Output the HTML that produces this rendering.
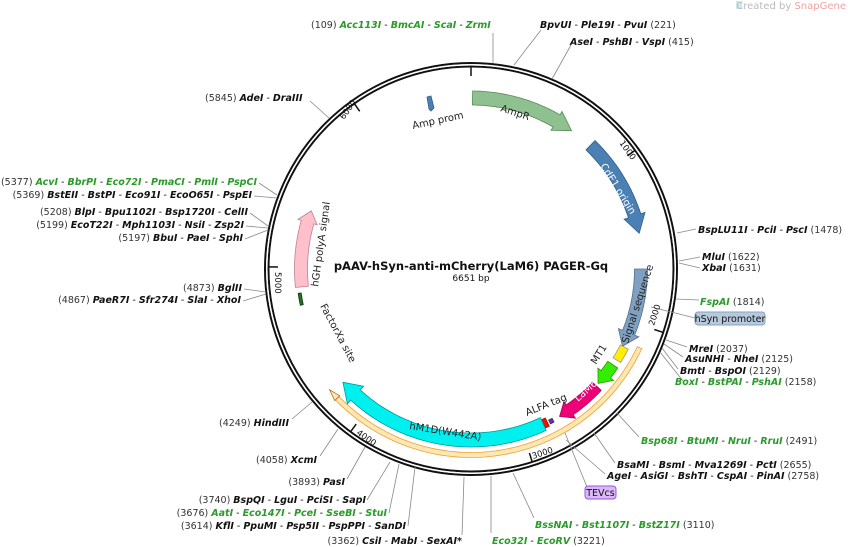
<!DOCTYPE html>
<html><head><meta charset="utf-8"><style>
html,body{margin:0;padding:0;background:#fff;width:848px;height:547px;overflow:hidden}
svg{display:block}
text{font-family:"DejaVu Sans","Liberation Sans",sans-serif;font-size:9.5px;fill:#111}
.e{font-weight:bold;font-style:italic}
.g{fill:#2a9a2a}
.n{fill:#333}
.f{font-size:10px;fill:#222}
.w{fill:#fff}
</style></head><body>
<svg id="s" width="848" height="547" viewBox="0 0 848 547" xmlns="http://www.w3.org/2000/svg">
<g id="feat"></g>
<circle cx="471" cy="269" r="206" fill="none" stroke="#111" stroke-width="2"/>
<circle cx="471" cy="269" r="202.5" fill="none" stroke="#111" stroke-width="2"/>
<circle cx="471" cy="269" r="204.2" fill="none" stroke="#fff" stroke-width="1.4"/>
<g id="ticks" stroke="#111" stroke-width="1.5"></g>
<g stroke="#888" stroke-width="0.8" fill="none">
<polyline points="493,33 493,63"/>
<polyline points="541,30 514,65"/>
<polyline points="571,45 552,79"/>
<polyline points="310,101 329,118"/>
<polyline points="259,183 277,195"/>
<polyline points="254,196 277,198"/>
<polyline points="250,213 268,226"/>
<polyline points="246,226 268,228"/>
<polyline points="245,239 268,230"/>
<polyline points="244,289 266,292"/>
<polyline points="243,301 266,294"/>
<polyline points="292,419 312,402"/>
<polyline points="320,456 338,429"/>
<polyline points="347,479 365,447"/>
<polyline points="367,500 390,462"/>
<polyline points="389,513 399,464"/>
<polyline points="408,526 415,467"/>
<polyline points="462,535 464,477"/>
<polyline points="491,533 491,476"/>
<polyline points="534,518 513,473"/>
<polyline points="587,487 565,433"/>
<polyline points="605,474 566,440"/>
<polyline points="615,463 594,433"/>
<polyline points="639,437 617,413"/>
<polyline points="683,381 660,352"/>
<polyline points="678,369 662,348"/>
<polyline points="683,357 664,344"/>
<polyline points="687,347 666,340"/>
<polyline points="651,307 695,318"/>
<polyline points="676,299 699,300"/>
<polyline points="679,261 700,257"/>
<polyline points="679,263 700,268"/>
<polyline points="677,233 696,229"/>
</g>
<text x="311" y="28"><tspan class="n">(109) </tspan><tspan class="e g">Acc113I</tspan> - <tspan class="e g">BmcAI</tspan> - <tspan class="e g">ScaI</tspan> - <tspan class="e g">ZrmI</tspan></text>
<text x="540" y="28"><tspan class="e">BpvUI</tspan> - <tspan class="e">Ple19I</tspan> - <tspan class="e">PvuI</tspan><tspan class="n"> (221)</tspan></text>
<text x="570" y="45"><tspan class="e">AseI</tspan> - <tspan class="e">PshBI</tspan> - <tspan class="e">VspI</tspan><tspan class="n"> (415)</tspan></text>
<text x="205" y="101"><tspan class="n">(5845) </tspan><tspan class="e">AdeI</tspan> - <tspan class="e">DraIII</tspan></text>
<text x="257" y="185" text-anchor="end"><tspan class="n">(5377) </tspan><tspan class="e g">AcvI</tspan> - <tspan class="e g">BbrPI</tspan> - <tspan class="e g">Eco72I</tspan> - <tspan class="e g">PmaCI</tspan> - <tspan class="e g">PmlI</tspan> - <tspan class="e g">PspCI</tspan></text>
<text x="252" y="198" text-anchor="end"><tspan class="n">(5369) </tspan><tspan class="e">BstEII</tspan> - <tspan class="e">BstPI</tspan> - <tspan class="e">Eco91I</tspan> - <tspan class="e">EcoO65I</tspan> - <tspan class="e">PspEI</tspan></text>
<text x="248" y="215" text-anchor="end"><tspan class="n">(5208) </tspan><tspan class="e">BlpI</tspan> - <tspan class="e">Bpu1102I</tspan> - <tspan class="e">Bsp1720I</tspan> - <tspan class="e">CelII</tspan></text>
<text x="244" y="228" text-anchor="end"><tspan class="n">(5199) </tspan><tspan class="e">EcoT22I</tspan> - <tspan class="e">Mph1103I</tspan> - <tspan class="e">NsiI</tspan> - <tspan class="e">Zsp2I</tspan></text>
<text x="243" y="241" text-anchor="end"><tspan class="n">(5197) </tspan><tspan class="e">BbuI</tspan> - <tspan class="e">PaeI</tspan> - <tspan class="e">SphI</tspan></text>
<text x="242" y="291" text-anchor="end"><tspan class="n">(4873) </tspan><tspan class="e">BglII</tspan></text>
<text x="241" y="303" text-anchor="end"><tspan class="n">(4867) </tspan><tspan class="e">PaeR7I</tspan> - <tspan class="e">Sfr274I</tspan> - <tspan class="e">SlaI</tspan> - <tspan class="e">XhoI</tspan></text>
<text x="289" y="426" text-anchor="end"><tspan class="n">(4249) </tspan><tspan class="e">HindIII</tspan></text>
<text x="317" y="463" text-anchor="end"><tspan class="n">(4058) </tspan><tspan class="e">XcmI</tspan></text>
<text x="345" y="485" text-anchor="end"><tspan class="n">(3893) </tspan><tspan class="e">PasI</tspan></text>
<text x="366" y="503" text-anchor="end"><tspan class="n">(3740) </tspan><tspan class="e">BspQI</tspan> - <tspan class="e">LguI</tspan> - <tspan class="e">PciSI</tspan> - <tspan class="e">SapI</tspan></text>
<text x="387" y="516" text-anchor="end"><tspan class="n">(3676) </tspan><tspan class="e g">AatI</tspan> - <tspan class="e g">Eco147I</tspan> - <tspan class="e g">PceI</tspan> - <tspan class="e g">SseBI</tspan> - <tspan class="e g">StuI</tspan></text>
<text x="406" y="529" text-anchor="end"><tspan class="n">(3614) </tspan><tspan class="e">KflI</tspan> - <tspan class="e">PpuMI</tspan> - <tspan class="e">Psp5II</tspan> - <tspan class="e">PspPPI</tspan> - <tspan class="e">SanDI</tspan></text>
<text x="462" y="544" text-anchor="end"><tspan class="n">(3362) </tspan><tspan class="e">CsiI</tspan> - <tspan class="e">MabI</tspan> - <tspan class="e">SexAI*</tspan></text>
<text x="492" y="544"><tspan class="e g">Eco32I</tspan> - <tspan class="e g">EcoRV</tspan><tspan class="n"> (3221)</tspan></text>
<text x="535" y="528"><tspan class="e g">BssNAI</tspan> - <tspan class="e g">Bst1107I</tspan> - <tspan class="e g">BstZ17I</tspan><tspan class="n"> (3110)</tspan></text>
<rect x="585" y="486" width="31" height="13" rx="3" fill="#d9b8f5" stroke="#9a55e0" stroke-width="1"/>
<text x="600.5" y="496" text-anchor="middle">TEVcs</text>
<text x="607" y="479"><tspan class="e">AgeI</tspan> - <tspan class="e">AsiGI</tspan> - <tspan class="e">BshTI</tspan> - <tspan class="e">CspAI</tspan> - <tspan class="e">PinAI</tspan><tspan class="n"> (2758)</tspan></text>
<text x="617" y="468"><tspan class="e">BsaMI</tspan> - <tspan class="e">BsmI</tspan> - <tspan class="e">Mva1269I</tspan> - <tspan class="e">PctI</tspan><tspan class="n"> (2655)</tspan></text>
<text x="641" y="444"><tspan class="e g">Bsp68I</tspan> - <tspan class="e g">BtuMI</tspan> - <tspan class="e g">NruI</tspan> - <tspan class="e g">RruI</tspan><tspan class="n"> (2491)</tspan></text>
<text x="675" y="385"><tspan class="e g">BoxI</tspan> - <tspan class="e g">BstPAI</tspan> - <tspan class="e g">PshAI</tspan><tspan class="n"> (2158)</tspan></text>
<text x="680" y="374"><tspan class="e">BmtI</tspan> - <tspan class="e">BspOI</tspan><tspan class="n"> (2129)</tspan></text>
<text x="685" y="362"><tspan class="e">AsuNHI</tspan> - <tspan class="e">NheI</tspan><tspan class="n"> (2125)</tspan></text>
<text x="689" y="352"><tspan class="e">MreI</tspan><tspan class="n"> (2037)</tspan></text>
<rect x="695" y="312" width="70" height="13" rx="3" fill="#b7c9dc" stroke="#8aa4c0" stroke-width="1"/>
<text x="730" y="322" text-anchor="middle">hSyn promoter</text>
<text x="700" y="305"><tspan class="e g">FspAI</tspan><tspan class="n"> (1814)</tspan></text>
<text x="702" y="260"><tspan class="e">MluI</tspan><tspan class="n"> (1622)</tspan></text>
<text x="702" y="271"><tspan class="e">XbaI</tspan><tspan class="n"> (1631)</tspan></text>
<text x="698" y="233"><tspan class="e">BspLU11I</tspan> - <tspan class="e">PciI</tspan> - <tspan class="e">PscI</tspan><tspan class="n"> (1478)</tspan></text>
<text x="471" y="270" text-anchor="middle" style="font-size:11.5px;font-weight:bold">pAAV-hSyn-anti-mCherry(LaM6) PAGER-Gq</text>
<text x="471" y="281" text-anchor="middle" style="font-size:9px">6651 bp</text>
<rect x="736" y="1" width="6" height="8" fill="#cde8f0"/>
<text x="846" y="9" text-anchor="end" style="font-size:10px;fill:#bbb">Created by <tspan style="fill:#f4a0a0">SnapGene</tspan></text>
<text class="f" transform="translate(500,111) rotate(18)">AmpR</text>
<text class="f w" transform="translate(600,166) rotate(58)">CdE1 origin</text>
<text class="f" transform="translate(628,344) rotate(-72)">Signal sequence</text>
<text class="f" transform="translate(596,365) rotate(-58)">MT1</text>
<text class="f w" transform="translate(578,402) rotate(-42)">LaM6</text>
<text class="f" transform="translate(527,416) rotate(-22)">ALFA tag</text>
<text class="f" transform="translate(409,429) rotate(9)">hM1D(W442A)</text>
<text class="f" transform="translate(318,287) rotate(-82)">hGH polyA signal</text>
<text class="f" transform="translate(320,306) rotate(62)">FactorXa site</text>
<text class="f" transform="translate(413,129) rotate(-12)">Amp prom</text>
<text style="font-size:8.5px" transform="translate(619,143) rotate(54)">1000</text>
<text style="font-size:8.5px" transform="translate(654,326) rotate(-72)">2000</text>
<text style="font-size:8.5px" transform="translate(533,459) rotate(-18)">3000</text>
<text style="font-size:8.5px" transform="translate(356,434) rotate(35)">4000</text>
<text style="font-size:8.5px" transform="translate(275,272) rotate(90)">5000</text>
<text style="font-size:8.5px" transform="translate(344,120) rotate(-55)">6000</text>
<polygon points="427,97 431,96 434,108 431,111 429,109" fill="#4a80b4" stroke="#2f5f8a" stroke-width="0.8"/>
</svg>
<script>
var cx=471,cy=269,R=Math.PI/180;
function P(r,t){return [(cx+r*Math.sin(t*R)).toFixed(1),(cy-r*Math.cos(t*R)).toFixed(1)].join(',');}
function arrow(r,w,t0,t1,head,fill,stroke,hw){
 hw=hw||w*0.85;var d=t1>t0?1:-1;var tb=t1-d*head;var pts=[];var i,n=40;
 for(i=0;i<=n;i++)pts.push(P(r+w/2,t0+(tb-t0)*i/n));
 pts.push(P(r+hw,tb));pts.push(P(r,t1));pts.push(P(r-hw,tb));
 for(i=n;i>=0;i--)pts.push(P(r-w/2,t0+(tb-t0)*i/n));
 return '<polygon points="'+pts.join(' ')+'" fill="'+fill+'" stroke="'+stroke+'" stroke-width="0.8"/>';}
function band(r,w,t0,t1,fill,stroke){var pts=[],i,n=60;
 for(i=0;i<=n;i++)pts.push(P(r+w/2,t0+(t1-t0)*i/n));
 for(i=n;i>=0;i--)pts.push(P(r-w/2,t0+(t1-t0)*i/n));
 return '<polygon points="'+pts.join(' ')+'" fill="'+fill+'" stroke="'+stroke+'" stroke-width="0.8"/>';}
var h='';
h+=band(186,5,115,226,'#fde7b5','#f0a030');
h+='<polygon points="'+P(189.5,226)+' '+P(186,229.5)+' '+P(182.5,226)+'" fill="#fde7b5" stroke="#b07020" stroke-width="0.8"/>';
h+=arrow(171,14,0.5,36,6,'#8fc08f','#5a8a5a',11);
h+=arrow(172,13,44,78,6,'#4a80b4','#2f5f8a',11);
h+=arrow(170,13,90,117,5,'#7fa0c0','#55708e',11);
h+=band(172,9,117,122,'#ffee00','#999');
h+=arrow(171,12,124,132,4,'#33ee00','#2a9a00',10);
h+=arrow(172,12,133,149,4,'#ee0077','#aa0055',10);
h+=band(172,4,151.5,152.8,'#7722dd','#333');
h+=band(171,9,153.5,156,'#ee1100','#991100');
h+=arrow(171,14,155,228.5,6,'#00f0f0','#009999',12);
h+=arrow(170,13,264,290,4,'#ffc0cb','#c08090',10);
h+=band(173,3,258,262,'#2a6e2a','#0a3a0a');
document.getElementById('feat').innerHTML=h;
var t='';[0,54.13,108.26,162.39,216.5,270.6,324.8].forEach(function(a){var p=P(202,a).split(','),q=P(193,a).split(',');t+='<line x1="'+p[0]+'" y1="'+p[1]+'" x2="'+q[0]+'" y2="'+q[1]+'"/>';});
document.getElementById('ticks').innerHTML=t;
</script>
</body></html>
